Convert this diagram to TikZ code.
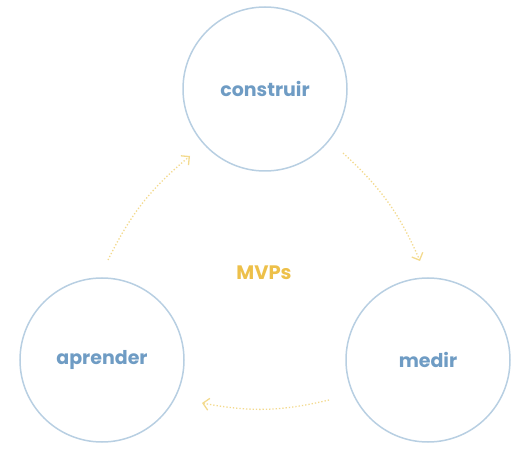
\documentclass[tikz,border=0pt]{standalone}
\usepackage{fontspec}
\setmainfont{Poppins}
\usepackage{tikz}
\usetikzlibrary{arrows.meta}
\usepackage{xcolor}
\definecolor{ringblue}{HTML}{B8CFE2}
\definecolor{textblue}{HTML}{6F9CC4}
\definecolor{dotyellow}{HTML}{F3DA8E}
\definecolor{mvpgold}{HTML}{EDC04A}

\begin{document}
\begin{tikzpicture}[
    x=1pt, y=-1pt,
    circ/.style={draw=ringblue, line width=1.5pt, circle, minimum size=164pt, inner sep=0pt, text=textblue, font=\bfseries\fontsize{19}{22}\selectfont},
    arrow/.style={-{Straight Barb[length=6pt, width=12pt]}, draw=dotyellow, line width=1.3pt, dotted}
]
\useasboundingbox (0,0) rectangle (520,449);

% Cycle nodes
\node[circ] (construir) at (265,89) {construir};
\node[circ] (medir) at (428,360) {medir};
\node[circ] (aprender) at (102,360) {aprender};

% Center label
\node[font=\bfseries\fontsize{19.5}{22}\selectfont, text=mvpgold] (mvps) at (264,273) {MVPs};

% Dotted arrows
\coordinate (a1) at (108,260);
\coordinate (a2) at (190,156);
\coordinate (b1) at (343,153);
\coordinate (b2) at (420,261);
\coordinate (c1) at (329,400);
\coordinate (c2) at (202,403);
\draw[arrow] (a1) to[bend left=12] (a2);
\draw[arrow] (b1) to[bend left=12] (b2);
\draw[arrow] (c1) to[bend left=12] (c2);

\end{tikzpicture}
\end{document}
